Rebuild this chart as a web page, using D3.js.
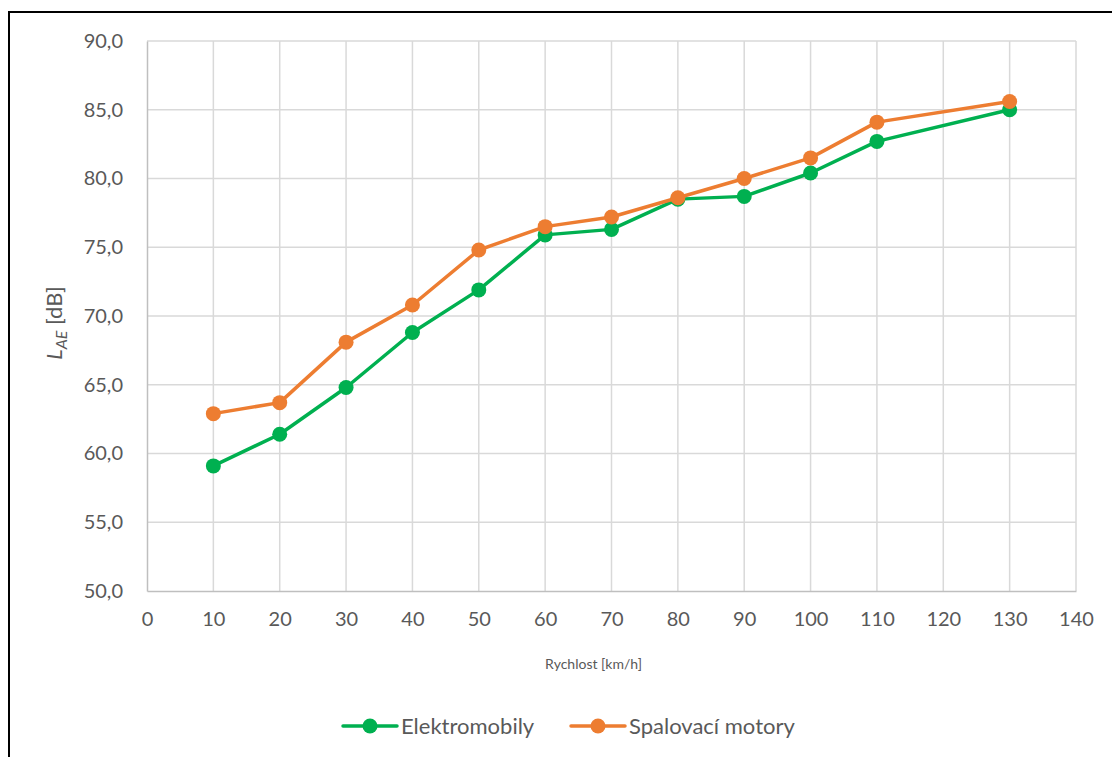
<!DOCTYPE html>
<html>
<head>
<meta charset="utf-8">
<script src="https://cdn.jsdelivr.net/npm/d3@7"></script>
<style>
  html, body { margin: 0; padding: 0; background: #fff; }
  svg { display: block; }
  text { font-family: Lato, "Open Sans", sans-serif; fill: #595959; }
</style>
</head>
<body>
<svg id="chart" width="1112" height="757"></svg>
<script>
// Sound exposure level L_AE vs. passing speed
const speeds = [10, 20, 30, 40, 50, 60, 70, 80, 90, 100, 110, 130];
const electric = [59.1, 61.4, 64.8, 68.8, 71.9, 75.9, 76.3, 78.5, 78.7, 80.4, 82.7, 85.0];
const combustion = [62.9, 63.7, 68.1, 70.8, 74.8, 76.5, 77.2, 78.6, 80.0, 81.5, 84.1, 85.6];
const seriesNames = ["Elektromobily", "Spalovací motory"];
const seriesColors = ["#00b050", "#ed7d31"];
const xTicks = [0, 10, 20, 30, 40, 50, 60, 70, 80, 90, 100, 110, 120, 130, 140];
const yTicks = [50, 55, 60, 65, 70, 75, 80, 85, 90];

const svg = d3.select("#chart");

// outer frame (top and left edges visible)
svg.append("path")
  .attr("d", "M9,757 V12 H1112")
  .attr("fill", "none").attr("stroke", "#000").attr("stroke-width", 2);

const x = d3.scaleLinear().domain([0, 140]).range([147, 1076]);
const y = d3.scaleLinear().domain([50, 90]).range([591, 41]);

const fmt = d => d3.format(".1f")(d).replace(".", ",");

// grid
const grid = svg.append("g");
grid.selectAll("line.h").data(yTicks.filter(d => d > 50)).join("line")
  .attr("x1", x(0)).attr("x2", x(140))
  .attr("y1", d => y(d)).attr("y2", d => y(d))
  .attr("stroke", "#d9d9d9").attr("stroke-width", 1.5);
grid.selectAll("line.v").data(xTicks.filter(d => d > 0)).join("line")
  .attr("x1", d => x(d)).attr("x2", d => x(d))
  .attr("y1", y(90)).attr("y2", y(50))
  .attr("stroke", "#d9d9d9").attr("stroke-width", 1.5);

// axes
const yAxis = svg.append("g").attr("transform", `translate(${x(0)},0)`)
  .call(d3.axisLeft(y).tickValues(yTicks).tickFormat(fmt).tickSize(0).tickPadding(24));
yAxis.select(".domain").attr("stroke", "#bfbfbf").attr("stroke-width", 1.5);
yAxis.selectAll("text").attr("font-size", 20).attr("fill", "#595959")
  .attr("font-family", "Lato, 'Open Sans', sans-serif");

const xAxis = svg.append("g").attr("transform", `translate(0,${y(50)})`)
  .call(d3.axisBottom(x).tickValues(xTicks).tickSize(0).tickPadding(21));
xAxis.select(".domain").attr("stroke", "#bfbfbf").attr("stroke-width", 1.5);
xAxis.selectAll("text").attr("font-size", 20).attr("fill", "#595959")
  .attr("font-family", "Lato, 'Open Sans', sans-serif");

// axis titles
svg.append("text")
  .attr("x", 642).attr("y", 669)
  .attr("text-anchor", "end").attr("font-size", 14)
  .text("Rychlost [km/h]");

const yt = svg.append("text")
  .attr("transform", `translate(62,323) rotate(-90)`)
  .attr("text-anchor", "middle").attr("font-size", 22);
yt.append("tspan").attr("font-style", "italic").text("L");
yt.append("tspan").attr("font-style", "italic").attr("font-size", 16).attr("dy", 5).text("AE");
yt.append("tspan").attr("dy", -5).text(" [dB]");

// series
const data = [electric, combustion];
const line = d3.line().x((d, i) => x(speeds[i])).y(d => y(d));
data.forEach((vals, k) => {
  const g = svg.append("g");
  g.append("path").datum(vals).attr("d", line)
    .attr("fill", "none").attr("stroke", seriesColors[k])
    .attr("stroke-width", 3.5).attr("stroke-linejoin", "round");
  g.selectAll("circle").data(vals).join("circle")
    .attr("cx", (d, i) => x(speeds[i])).attr("cy", d => y(d))
    .attr("r", 7.5).attr("fill", seriesColors[k]);
});

// legend
const legendX = [343, 571];
seriesNames.forEach((name, k) => {
  const g = svg.append("g").attr("transform", `translate(${legendX[k]},726)`);
  g.append("line").attr("x1", 0).attr("x2", 54)
    .attr("stroke", seriesColors[k]).attr("stroke-width", 3.5).attr("stroke-linecap", "round");
  g.append("circle").attr("cx", 27).attr("r", 7.5).attr("fill", seriesColors[k]);
  g.append("text").attr("x", 58).attr("dy", "0.35em").attr("font-size", 22).text(name);
});
</script>
</body>
</html>
